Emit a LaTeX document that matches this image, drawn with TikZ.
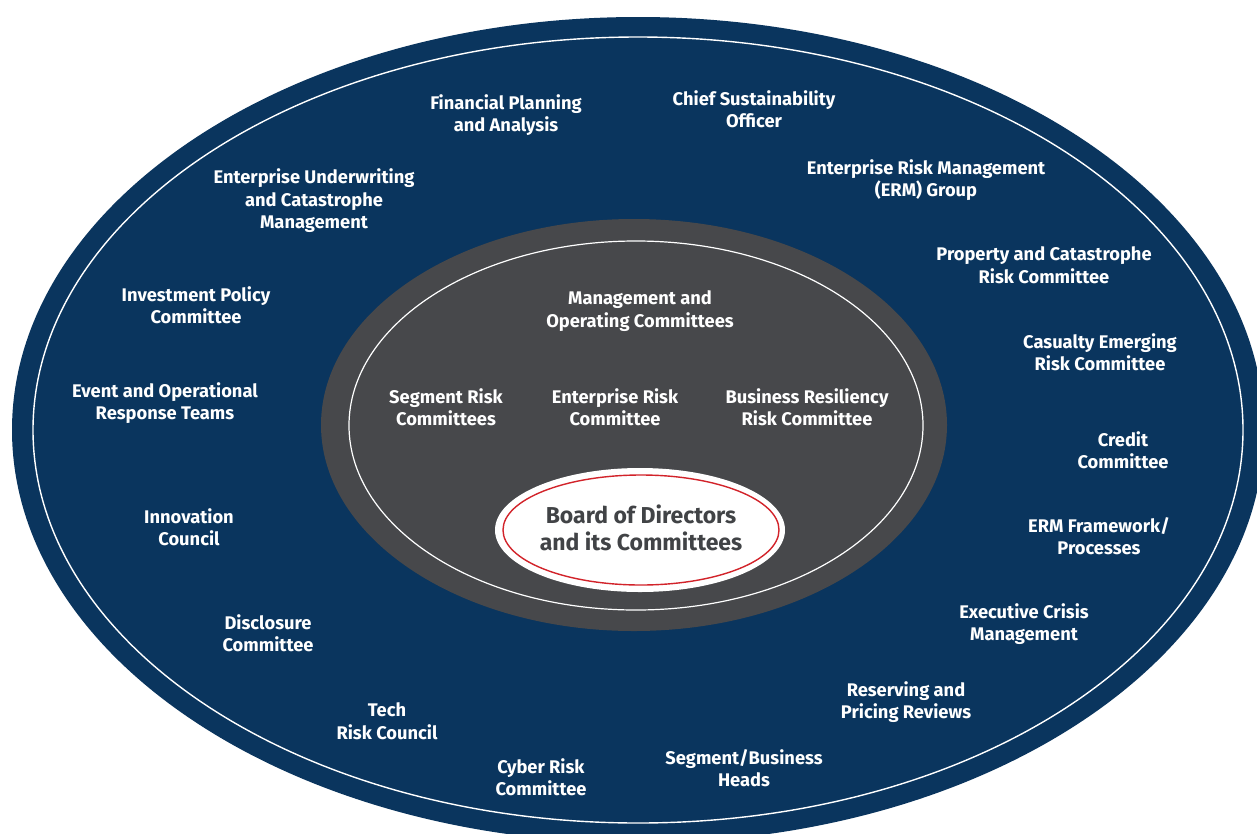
\documentclass[tikz,border=0pt]{standalone}
\usepackage{fontspec}
\setmainfont{Fira Sans}
\definecolor{navy}{HTML}{0A355E}
\definecolor{slate}{HTML}{47484B}
\definecolor{boardred}{HTML}{D2232A}
\definecolor{boardtext}{HTML}{414346}
\begin{document}
\begin{tikzpicture}[x=1pt, y=-1pt,
    ringlabel/.style={align=center, text=white, font=\fontsize{18.3}{22.5}\selectfont\bfseries, inner sep=0pt},
    boardlabel/.style={align=center, text=boardtext, font=\fontsize{23}{27}\selectfont\bfseries, inner sep=0pt}]
    \clip (0,0) rectangle (1257,833);
    \fill[white] (0,0) rectangle (1257,833);
    % outer ring
    \fill[navy] (638,430) ellipse [x radius=626, y radius=413];
    \draw[white, line width=1.4] (638,430) ellipse [x radius=605, y radius=393];
    % management ring
    \fill[slate] (634,425) ellipse [x radius=313, y radius=206];
    \draw[white, line width=1.2] (636,425.5) ellipse [x radius=287, y radius=184.5];
    % board
    \fill[white] (640,530) ellipse [x radius=145, y radius=62];
    \draw[boardred, line width=1.4] (641,530) ellipse [x radius=138, y radius=55];
    \node[boardlabel] (board) at (641,528) {Board of Directors\\and its Committees};
    \foreach \nm/\px/\py/\txt in {mgmt/640/311/{Management and\\Operating Committees},
        segrisk/446/407/{Segment Risk\\Committees},
        entrisk/615/407/{Enterprise Risk\\Committee},
        resil/807/407/{Business Resiliency\\Risk Committee}}{
      \node[ringlabel] (\nm) at (\px,\py) {\txt};
    }
    \foreach \nm/\px/\py/\txt in {fpa/506/115/{Financial Planning\\and Analysis},
        cso/754/109/{Chief Sustainability\\Officer},
        erm/926/180/{Enterprise Risk Management\\(ERM) Group},
        underwriting/314/201/{Enterprise Underwriting\\and Catastrophe\\Management},
        propcat/1044/265/{Property and Catastrophe\\Risk Committee},
        invest/196/305/{Investment Policy\\Committee},
        casualty/1100/352/{Casualty Emerging\\Risk Committee},
        event/165/403/{Event and Operational\\Response Teams},
        credit/1123/450/{Credit\\Committee},
        innov/189/527/{Innovation\\Council},
        framework/1099/536/{ERM Framework/\\Processes},
        disclosure/268/633/{Disclosure\\Committee},
        crisis/1024/624/{Executive Crisis\\Management},
        reserving/906/702/{Reserving and\\Pricing Reviews},
        tech/387/721/{Tech\\Risk Council},
        heads/744/768/{Segment/Business\\Heads},
        cyber/541/777/{Cyber Risk\\Committee}}{
      \node[ringlabel] (\nm) at (\px,\py) {\txt};
    }
\end{tikzpicture}
\end{document}
